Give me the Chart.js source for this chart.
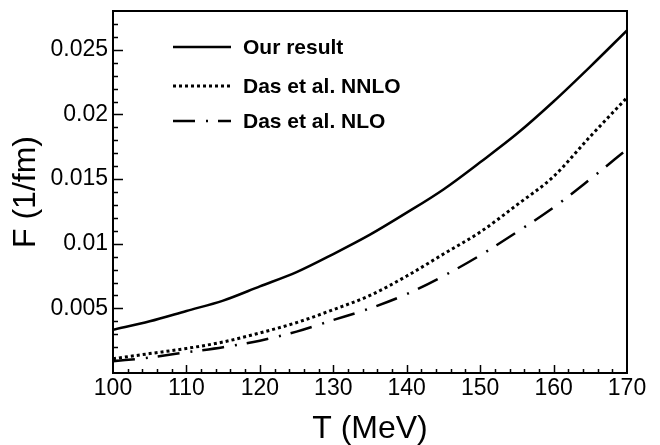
<!DOCTYPE html>
<html>
<head>
<meta charset="utf-8">
<script src="https://cdn.jsdelivr.net/npm/chart.js@4/dist/chart.umd.min.js"></script>
<style>
  html, body { margin: 0; padding: 0; background: #fff; }
  #wrap { width: 660px; height: 445px; }
</style>
</head>
<body>
<div id="wrap"><canvas id="fChart"></canvas></div>
<script>
const FONT = "'Liberation Sans', Arial, sans-serif";

const temps = [100, 105, 110, 115, 120, 125, 130, 135, 140, 145, 150, 155, 160, 165, 170];
const ourResult = [0.00335, 0.0040, 0.0048, 0.0056, 0.0067, 0.0078, 0.0092, 0.0107, 0.0124, 0.0142, 0.0163, 0.0185, 0.0210, 0.0237, 0.0265];
const dasNNLO = [0.0011, 0.0015, 0.0019, 0.0024, 0.0031, 0.0039, 0.0049, 0.0060, 0.0075, 0.0092, 0.0109, 0.0130, 0.0152, 0.0183, 0.0213];
const dasNLO = [0.0009, 0.0012, 0.0016, 0.0020, 0.0025, 0.0032, 0.0041, 0.0050, 0.0061, 0.0075, 0.0091, 0.0109, 0.0128, 0.0150, 0.0173];

const seriesNames = ["Our result", "Das et al. NNLO", "Das et al. NLO"];
const seriesDash = [[], [3, 3], [22, 11, 2, 10]];
const seriesWidth = [2.5, 3, 2.5];

const toPoints = vals => temps.map((t, i) => ({ x: t, y: vals[i] }));

// inward ticks + closed frame, ROOT style
const framePlugin = {
  id: "frame",
  afterDraw(chart) {
    const { ctx, chartArea: a, scales } = chart;
    ctx.save();
    ctx.strokeStyle = "#000";
    ctx.lineWidth = 1.5;
    ctx.beginPath();
    scales.x.ticks.forEach(t => {
      if (t.value <= 100 || t.value >= 170) return;
      const px = Math.round(scales.x.getPixelForValue(t.value)) + 0.5;
      const len = t.value % 10 === 0 ? 8 : 4;
      ctx.moveTo(px, a.bottom);
      ctx.lineTo(px, a.bottom - len);
    });
    scales.y.ticks.forEach(t => {
      const k = Math.round(t.value * 1000);
      if (k <= 0 || k >= 28) return;
      const py = Math.round(scales.y.getPixelForValue(t.value)) + 0.5;
      const len = k % 5 === 0 ? 10 : 5;
      ctx.moveTo(a.left, py);
      ctx.lineTo(a.left + len, py);
    });
    ctx.stroke();
    ctx.lineWidth = 2;
    ctx.strokeRect(a.left, a.top, a.right - a.left, a.bottom - a.top);
    ctx.restore();
  }
};

const legendPlugin = {
  id: "insideLegend",
  afterDraw(chart) {
    const { ctx, chartArea: a } = chart;
    const rows = [36, 75, 110];
    ctx.save();
    ctx.font = "bold 21px " + FONT;
    ctx.fillStyle = "#000";
    ctx.textBaseline = "middle";
    chart.data.datasets.forEach((ds, i) => {
      const y = a.top + rows[i];
      ctx.strokeStyle = ds.borderColor;
      ctx.lineWidth = ds.borderWidth;
      ctx.setLineDash(ds.borderDash);
      ctx.beginPath();
      ctx.moveTo(a.left + 60, y);
      ctx.lineTo(a.left + 118, y);
      ctx.stroke();
      ctx.setLineDash([]);
      ctx.fillText(ds.label, a.left + 130, y + 1);
    });
    ctx.restore();
  }
};

const datasets = [ourResult, dasNNLO, dasNLO].map((vals, i) => ({
  label: seriesNames[i],
  data: toPoints(vals),
  borderColor: "#000",
  borderWidth: seriesWidth[i],
  borderDash: seriesDash[i],
  pointRadius: 0,
  tension: 0.3,
  cubicInterpolationMode: "monotone",
  fill: false
}));

new Chart(document.getElementById("fChart"), {
  type: "line",
  data: { datasets },
  options: {
    responsive: true,
    maintainAspectRatio: false,
    animation: false,
    layout: { padding: { top: 11, right: 33, left: 0, bottom: 0 } },
    plugins: {
      legend: { display: false },
      tooltip: { enabled: false }
    },
    scales: {
      x: {
        type: "linear",
        min: 100,
        max: 170,
        afterFit: s => { s.height = 72; s.paddingLeft = 0; s.paddingRight = 0; },
        grid: { display: false, drawTicks: false },
        border: { display: false },
        ticks: {
          stepSize: 2,
          autoSkip: false,
          maxRotation: 0,
          padding: 2,
          color: "#000",
          font: { family: FONT, size: 23 },
          callback: v => (v % 10 === 0 ? String(v) : "")
        },
        title: {
          display: true,
          text: "T (MeV)",
          color: "#000",
          font: { family: FONT, size: 32, lineHeight: 1 },
          padding: { top: 0, bottom: 0 }
        }
      },
      y: {
        min: 0,
        max: 0.028,
        afterFit: s => { s.width = 113; s.paddingTop = 0; s.paddingBottom = 0; },
        grid: { display: false, drawTicks: false },
        border: { display: false },
        ticks: {
          stepSize: 0.001,
          autoSkip: false,
          padding: 5,
          color: "#000",
          font: { family: FONT, size: 23 },
          callback: v => {
            const k = Math.round(v * 1000);
            return k > 0 && k % 5 === 0 ? String(k / 1000) : "";
          }
        },
        title: {
          display: true,
          text: "F (1/fm)",
          color: "#000",
          font: { family: FONT, size: 32, lineHeight: 1 },
          padding: { top: 10, bottom: 0 }
        }
      }
    }
  },
  plugins: [framePlugin, legendPlugin]
});
</script>
</body>
</html>
